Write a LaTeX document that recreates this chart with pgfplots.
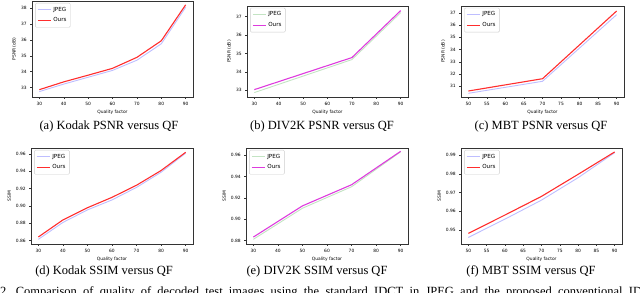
\documentclass[border=0pt]{standalone}
\usepackage{fontspec}
\setmainfont{Liberation Serif}
\newfontfamily\dvs{DejaVu Sans}
\usepackage{pgfplots}
\pgfplotsset{compat=1.18}
\definecolor{jpegblue}{RGB}{190,190,255}
\definecolor{oursred}{RGB}{255,45,45}
\definecolor{jpeggreen}{RGB}{195,228,195}
\definecolor{oursmag}{RGB}{222,60,222}
\newcommand\tf{\dvs\fontsize{4.4}{5}\selectfont}
\pgfplotsset{panel/.style={
  scale only axis, anchor=south west,
  /pgf/number format/assume math mode=true,
  axis line style={black!80, line width=0.6pt},
  tick align=outside, major tick length=1.8pt, tick style={black!80, line width=0.4pt},
  xtick pos=bottom, ytick pos=left,
  ticklabel style={font=\tf},
  label style={font=\tf},
  xlabel={Quality factor},
  xlabel style={yshift=2pt},
  ylabel style={yshift=-2pt},
  legend style={at={(0.02,0.98)}, anchor=north west, draw=black!20, rounded corners=1pt,
    font=\dvs\fontsize{5.6}{6.5}\selectfont, row sep=1.2pt, inner sep=1.8pt},
  legend cell align=left,
  legend image code/.code={\draw[##1] (0pt,0pt) -- (13pt,0pt);},
  every axis plot/.append style={line join=round},
 },
 ssim/.style={yticklabel style={/pgf/number format/fixed, /pgf/number format/precision=2, /pgf/number format/fixed zerofill}, ylabel={SSIM}},
 psnr/.style={ylabel={PSNR (dB)}},
 qf30/.style={xmin=27, xmax=93, xtick={30,40,...,90}},
 qf50/.style={xmin=48, xmax=92, xtick={50,55,...,90}},
 jp/.style={line width=0.9pt},
 ou/.style={line width=1.1pt},
}
\begin{document}
\begin{tikzpicture}
\useasboundingbox (0,0) rectangle (640pt,292pt);
% (a)
\begin{axis}[panel, psnr, qf30, at={(32pt,195pt)}, width=161pt, height=96pt,
  ymin=32.41, ymax=38.44, ytick={33,34,...,38}]
\addplot[jp, jpegblue] coordinates {(30,32.75)(40,33.22)(50,33.65)(60,34.08)(70,34.72)(80,35.75)(90,38.05)};
\addplot[ou, oursred] coordinates {(30,32.87)(40,33.36)(50,33.78)(60,34.21)(70,34.90)(80,35.94)(90,38.20)};
\legend{JPEG, Ours}
\end{axis}
% (b)
\begin{axis}[panel, psnr, qf30, at={(247pt,195pt)}, width=161pt, height=91pt,
  ymin=32.64, ymax=37.58, ytick={33,34,...,37}]
\addplot[jp, jpeggreen] coordinates {(30,32.88)(70,34.67)(90,37.22)};
\addplot[ou, oursmag] coordinates {(30,33.04)(70,34.78)(90,37.33)};
\legend{JPEG, Ours}
\end{axis}
% (c)
\begin{axis}[panel, psnr, qf50, at={(461pt,195pt)}, width=163pt, height=91pt,
  ymin=30.13, ymax=37.55, ytick={31,32,...,37}]
\addplot[jp, jpegblue] coordinates {(50,30.43)(70,31.41)(90,36.84)};
\addplot[ou, oursred] coordinates {(50,30.62)(70,31.62)(90,37.14)};
\legend{JPEG, Ours}
\end{axis}
% (d)
\begin{axis}[panel, ssim, qf30, at={(31pt,48pt)}, width=162pt, height=96pt,
  ymin=0.8561, ymax=0.967, ytick={0.86,0.88,...,0.961}]
\addplot[jp, jpegblue] coordinates {(30,.8615)(40,.8810)(50,.8955)(60,.9070)(70,.9215)(80,.9390)(90,.9610)};
\addplot[ou, oursred] coordinates {(30,.8642)(40,.8839)(50,.8980)(60,.9100)(70,.9240)(80,.9410)(90,.9620)};
\legend{JPEG, Ours}
\end{axis}
% (e)
\begin{axis}[panel, ssim, qf30, at={(246pt,48pt)}, width=162pt, height=96pt,
  ymin=0.8769, ymax=0.9668, ytick={0.88,0.90,...,0.961}]
\addplot[jp, jpeggreen] coordinates {(30,.8813)(50,.9104)(70,.9305)(90,.9632)};
\addplot[ou, oursmag] coordinates {(30,.8834)(50,.9126)(70,.9324)(90,.9637)};
\legend{JPEG, Ours}
\end{axis}
% (f)
\begin{axis}[panel, ssim, qf50, at={(461pt,48pt)}, width=161pt, height=96pt,
  ymin=0.9425, ymax=0.9939, ytick={0.95,0.96,...,0.991}]
\addplot[jp, jpegblue] coordinates {(50,.9460)(60,.9558)(70,.9660)(80,.9780)(90,.9914)};
\addplot[ou, oursred] coordinates {(50,.9482)(60,.9580)(70,.9680)(80,.9798)(90,.9918)};
\legend{JPEG, Ours}
\end{axis}
\begin{scope}[every node/.style={font=\fontsize{12.5}{14}\selectfont, anchor=base, inner sep=0pt}]
\node at (109pt,162pt) {(a) Kodak PSNR versus QF};
\node at (322pt,162pt) {(b) DIV2K PSNR versus QF};
\node at (541pt,162pt) {(c) MBT PSNR versus QF};
\node at (104pt,17pt) {(d) Kodak SSIM versus QF};
\node at (317pt,17pt) {(e) DIV2K SSIM versus QF};
\node at (531pt,17pt) {(f) MBT SSIM versus QF};
\node[anchor=base west] at (0pt,-3pt) {2.\ \ Comparison\ \ of\ \ quality\ \ of\ \ decoded\ \ test\ \ images\ \ using\ \ the\ \ standard\ \ IDCT\ \ in\ \ JPEG\ \ and\ \ the\ \ proposed\ \ conventional\ \ IDCT};
\end{scope}
\end{tikzpicture}
\end{document}
